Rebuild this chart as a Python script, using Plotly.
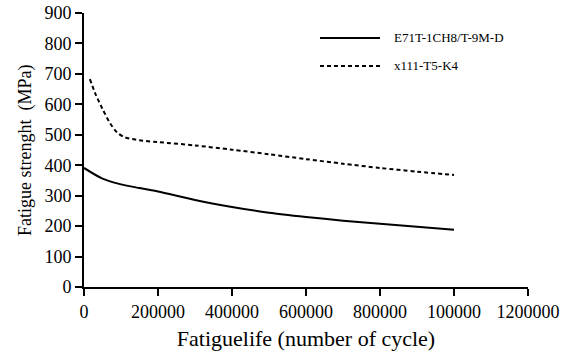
import plotly.graph_objects as go

# Data
solid_name = "E71T-1CH8/T-9M-D"
solid_x = [0, 50000, 100000, 150000, 200000, 300000, 400000, 500000, 600000, 700000, 800000, 900000, 1000000]
solid_y = [391, 356, 337, 325, 314, 286, 263, 244, 230, 218, 208, 198, 188]

dashed_name = "x111-T5-K4"
dashed_x = [16000, 30000, 50000, 70000, 90000, 110000, 150000, 200000, 300000, 400000, 500000, 600000, 700000, 800000, 900000, 1000000]
dashed_y = [683, 637, 585, 539, 507, 492, 482, 476, 465, 451, 436, 420, 405, 391, 379, 368]

x_tickvals = [0, 200000, 400000, 600000, 800000, 1000000, 1200000]
x_ticktext = ["0", "200000", "400000", "600000", "800000", "100000", "1200000"]
y_tickvals = [0, 100, 200, 300, 400, 500, 600, 700, 800, 900]

x_title = "Fatiguelife (number of cycle)"
y_title = "Fatigue strenght  (MPa)"

FONT = "Liberation Serif, Times New Roman, serif"
DASH = "4px,3px"

fig = go.Figure()
fig.add_trace(go.Scatter(x=solid_x, y=solid_y, mode="lines", name=solid_name,
                         line=dict(color="black", width=2, shape="spline", smoothing=0.8)))
fig.add_trace(go.Scatter(x=dashed_x, y=dashed_y, mode="lines", name=dashed_name,
                         line=dict(color="black", width=2, dash=DASH, shape="spline", smoothing=0.8)))

# Manual legend (paper coordinates)
legend_items = [(solid_name, "solid", 0.909), (dashed_name, DASH, 0.807)]
for name, dash, yy in legend_items:
    fig.add_shape(type="line", xref="paper", yref="paper", x0=0.5315, x1=0.6667, y0=yy, y1=yy,
                  line=dict(color="black", width=2, dash=dash))
    fig.add_annotation(xref="paper", yref="paper", x=0.6937, y=yy, text=name, showarrow=False,
                       xanchor="left", yanchor="middle",
                       font=dict(family=FONT, size=13, color="black"))

# Y-axis title placed as a rotated annotation
fig.add_annotation(xref="paper", yref="paper", x=-0.133, y=0.5, text=y_title, showarrow=False,
                   textangle=-90, xanchor="center", yanchor="middle",
                   font=dict(family=FONT, size=18, color="black"))

fig.update_layout(
    width=565, height=351,
    margin=dict(l=84, r=37, t=13, b=64),
    paper_bgcolor="white", plot_bgcolor="white",
    font=dict(family=FONT, size=18, color="black"),
    showlegend=False,
    xaxis=dict(range=[0, 1200000], tickvals=x_tickvals, ticktext=x_ticktext, automargin=False,
               ticklabeloverflow="allow",
               showgrid=False, zeroline=False, showline=True, linecolor="black", linewidth=2,
               ticks="outside", ticklen=7, tickwidth=2, tickcolor="black",
               title=dict(text=x_title, standoff=11),
               tickfont=dict(size=18)),
    yaxis=dict(range=[0, 900], tickvals=y_tickvals, automargin=False,
               ticklabeloverflow="allow",
               showgrid=False, zeroline=False, showline=True, linecolor="black", linewidth=2,
               ticks="outside", ticklen=7, tickwidth=2, tickcolor="black",
               tickfont=dict(size=18)),
)

# Remove the default 8px page margin so the figure fills the window exactly.
fig.write_html("out.html", config={"displayModeBar": False},
               post_script="document.body.style.margin='0';")
